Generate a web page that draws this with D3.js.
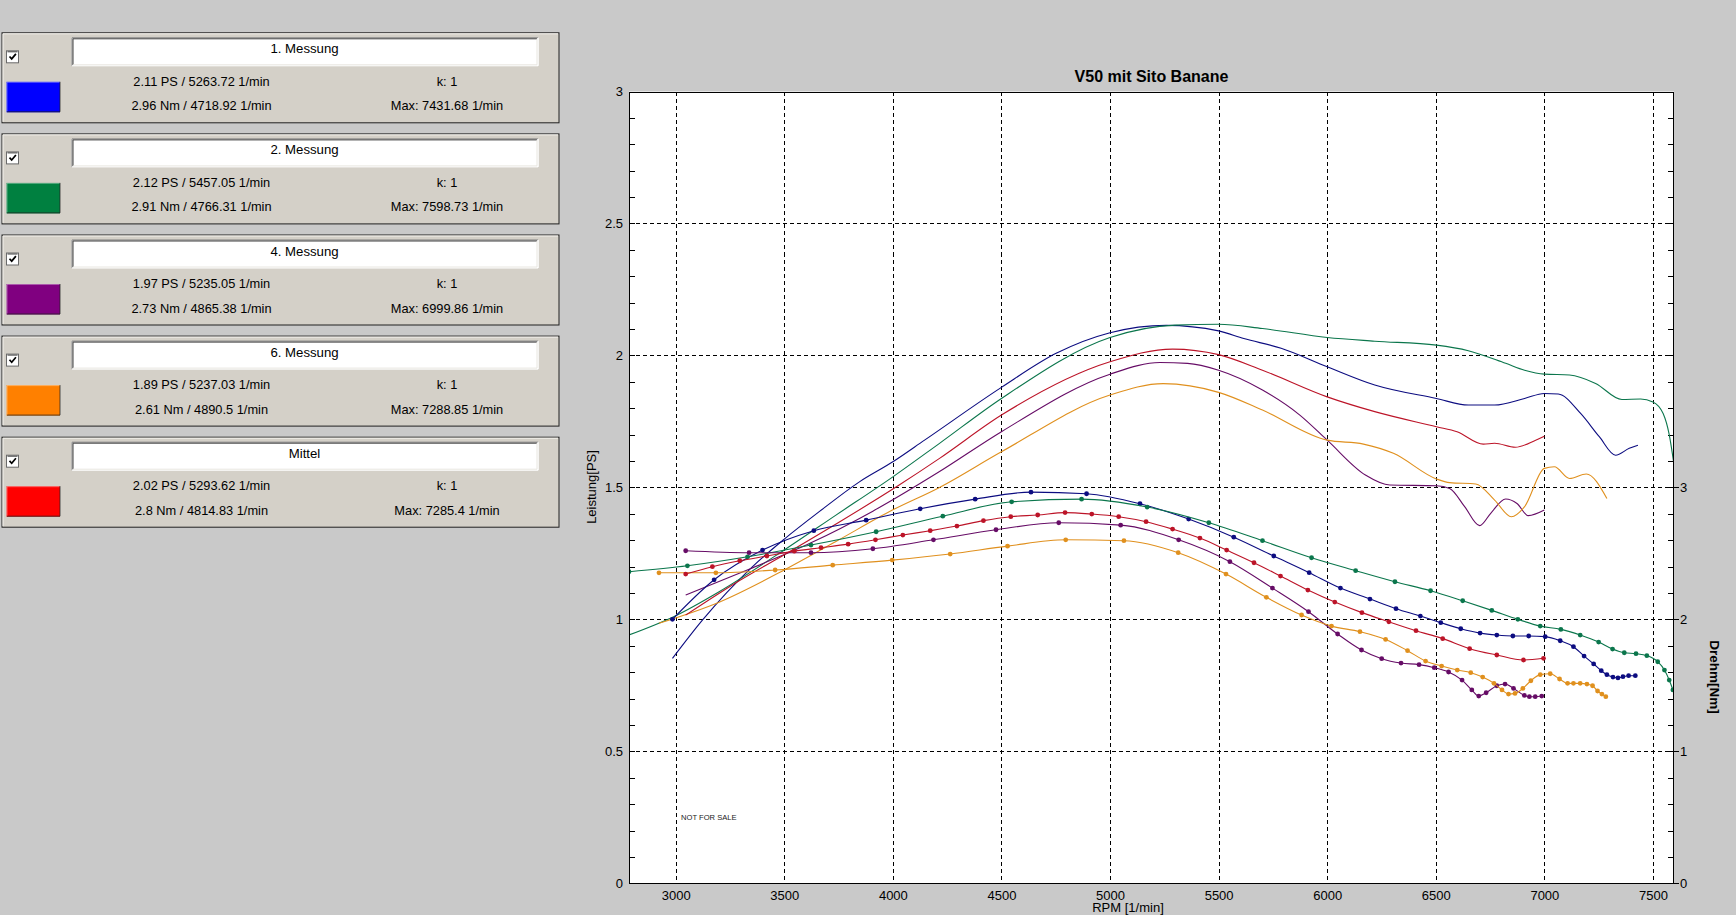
<!DOCTYPE html>
<html><head><meta charset="utf-8">
<script src="https://cdn.jsdelivr.net/npm/d3@7"></script>
<style>
html,body{margin:0;padding:0;background:#c9c9c9;overflow:hidden;}
svg{display:block;font-family:"Liberation Sans",Arial,sans-serif;}
</style></head><body>
<svg id="c" width="1736" height="915"></svg>
<script>
// ---------------- DATA ----------------
const seriesNames = ["1. Messung", "2. Messung", "4. Messung", "6. Messung", "Mittel"];
const legendPower = ["2.11 PS / 5263.72 1/min", "2.12 PS / 5457.05 1/min", "1.97 PS / 5235.05 1/min", "1.89 PS / 5237.03 1/min", "2.02 PS / 5293.62 1/min"];
const legendTorque = ["2.96 Nm / 4718.92 1/min", "2.91 Nm / 4766.31 1/min", "2.73 Nm / 4865.38 1/min", "2.61 Nm / 4890.5 1/min", "2.8 Nm / 4814.83 1/min"];
const legendK = ["k: 1", "k: 1", "k: 1", "k: 1", "k: 1"];
const legendMax = ["Max: 7431.68 1/min", "Max: 7598.73 1/min", "Max: 6999.86 1/min", "Max: 7288.85 1/min", "Max: 7285.4 1/min"];

const xTicks = [3000, 3500, 4000, 4500, 5000, 5500, 6000, 6500, 7000, 7500];
const psTicks = [0, 0.5, 1, 1.5, 2, 2.5, 3];
const nmTicks = [0, 1, 2, 3];

// Power [PS] vs RPM
const power1 = [[2985,0.852],[3123,0.997],[3354,1.20],[3500,1.304],[3661,1.408],[3846,1.521],[4000,1.597],[4146,1.679],[4500,1.879],[4752,2.008],[5000,2.086],[5259,2.114],[5500,2.093],[5616,2.064],[5788,2.027],[6000,1.957],[6219,1.888],[6503,1.837],[6650,1.812],[6771,1.812],[6909,1.837],[7000,1.856],[7064,1.854],[7167,1.780],[7253,1.692],[7328,1.622],[7391,1.648],[7431,1.660]];
const power2 = [[2785,0.941],[3000,1.014],[3200,1.105],[3500,1.263],[3738,1.395],[4000,1.540],[4215,1.667],[4500,1.837],[5000,2.068],[5300,2.115],[5500,2.118],[5702,2.102],[6000,2.068],[6219,2.054],[6503,2.039],[6650,2.018],[6822,1.970],[6909,1.944],[7000,1.929],[7116,1.926],[7236,1.894],[7357,1.833],[7443,1.835],[7500,1.824],[7547,1.780],[7575,1.700],[7598,1.580]];
const power4 = [[3046,1.092],[3338,1.19],[3623,1.29],[3908,1.41],[4215,1.56],[4500,1.711],[5000,1.929],[5230,1.973],[5357,1.970],[5500,1.944],[5702,1.869],[5874,1.774],[6000,1.679],[6176,1.547],[6288,1.509],[6503,1.506],[6564,1.496],[6633,1.427],[6702,1.355],[6753,1.402],[6822,1.456],[6874,1.439],[6926,1.393],[7000,1.414]];
const power6 = [[2923,0.985],[3200,1.065],[3500,1.187],[3738,1.295],[4000,1.415],[4215,1.50],[4500,1.635],[5000,1.850],[5245,1.893],[5500,1.860],[5702,1.793],[6000,1.679],[6167,1.664],[6305,1.629],[6503,1.532],[6564,1.518],[6684,1.513],[6771,1.452],[6848,1.389],[6909,1.427],[7000,1.572],[7046,1.578],[7116,1.534],[7193,1.551],[7288,1.458]];
const powerM = [[3046,1.016],[3300,1.15],[3500,1.245],[3750,1.367],[4029,1.509],[4215,1.61],[4500,1.774],[5000,1.976],[5288,2.024],[5500,2.003],[5702,1.944],[6000,1.843],[6219,1.787],[6503,1.730],[6598,1.711],[6719,1.664],[6771,1.667],[6866,1.652],[6960,1.679],[7000,1.694]];

// Torque [Nm] vs RPM
const torque1 = [[2985,2.00],[3177,2.30],[3400,2.525],[3636,2.672],[3877,2.752],[4126,2.838],[4379,2.911],[4636,2.964],[4892,2.952],[5138,2.876],[5362,2.760],[5570,2.623],[5754,2.480],[5917,2.354],[6061,2.237],[6197,2.154],[6317,2.081],[6429,2.025],[6523,1.975],[6615,1.929],[6704,1.896],[6781,1.881],[6855,1.874],[6928,1.874],[7004,1.869],[7073,1.838],[7134,1.793],[7183,1.722],[7227,1.662],[7262,1.611],[7288,1.581],[7316,1.563],[7339,1.556],[7362,1.566],[7388,1.573],[7419,1.573]];
const torque2 = [[2785,2.361],[3054,2.406],[3331,2.474],[3623,2.563],[3923,2.664],[4230,2.782],[4547,2.891],[4869,2.911],[5171,2.851],[5455,2.732],[5702,2.596],[5928,2.467],[6131,2.369],[6312,2.285],[6476,2.217],[6624,2.141],[6758,2.068],[6878,2.0],[6981,1.949],[7076,1.924],[7165,1.881],[7250,1.828],[7314,1.775],[7368,1.747],[7422,1.740],[7472,1.725],[7522,1.679],[7553,1.616],[7575,1.540],[7592,1.465]];
const torque4 = [[3046,2.52],[3338,2.505],[3623,2.505],[3908,2.535],[4187,2.603],[4475,2.679],[4764,2.732],[5049,2.714],[5316,2.603],[5552,2.437],[5748,2.237],[5914,2.058],[6048,1.889],[6158,1.768],[6251,1.702],[6340,1.669],[6423,1.657],[6493,1.634],[6559,1.601],[6621,1.540],[6666,1.465],[6698,1.419],[6732,1.444],[6781,1.497],[6819,1.510],[6858,1.477],[6908,1.424],[6931,1.414],[6958,1.414],[6988,1.419]];
const torque6 = [[2923,2.353],[3185,2.353],[3458,2.374],[3723,2.411],[3997,2.449],[4264,2.495],[4528,2.555],[4796,2.603],[5064,2.596],[5314,2.505],[5534,2.343],[5720,2.167],[5882,2.033],[6020,1.949],[6151,1.907],[6269,1.848],[6370,1.763],[6453,1.684],[6527,1.646],[6599,1.616],[6661,1.596],[6716,1.563],[6768,1.515],[6805,1.465],[6835,1.434],[6865,1.439],[6901,1.477],[6938,1.535],[6981,1.581],[7027,1.588],[7070,1.548],[7107,1.515],[7134,1.515],[7165,1.515],[7196,1.510],[7222,1.497],[7245,1.457],[7265,1.434],[7283,1.414]];
const torqueM = [[3046,2.343],[3169,2.399],[3295,2.444],[3420,2.480],[3546,2.517],[3669,2.543],[3794,2.570],[3920,2.603],[4046,2.639],[4172,2.672],[4295,2.707],[4417,2.748],[4543,2.778],[4667,2.791],[4793,2.809],[4916,2.798],[5040,2.778],[5166,2.740],[5288,2.684],[5414,2.616],[5537,2.525],[5663,2.429],[5785,2.328],[5911,2.222],[6035,2.131],[6160,2.051],[6284,1.982],[6409,1.914],[6532,1.854],[6656,1.778],[6781,1.730],[6904,1.692],[6996,1.705]];

const powerSeries = [power1, power2, power4, power6, powerM];
const torqueSeries = [torque1, torque2, torque4, torque6, torqueM];

// ---------------- STYLE ----------------
const swatchColors = ["#0000ff", "#008040", "#800080", "#ff8000", "#ff0000"];
const lineColors = ["#0c0c80", "#0b764c", "#660c66", "#e0901e", "#bc1428"];

const W = 1736, H = 915;
const svg = d3.select("#c");
svg.append("rect").attr("width", W).attr("height", H).attr("fill", "#c9c9c9");

// ---------------- LEGEND PANELS ----------------
const boxY0 = 32.3, boxStep = 101.1, boxW = 557, boxH = 90;
seriesNames.forEach((name, i) => {
  const g = svg.append("g").attr("transform", `translate(1.5,${boxY0 + i * boxStep})`);
  g.append("rect").attr("x", 0.5).attr("y", 0.5).attr("width", boxW).attr("height", boxH)
    .attr("fill", "#d4d0c8").attr("stroke", "#202020");
  g.append("path").attr("d", `M1.5,${boxH - 0.5}V1.5H${boxW - 0.5}`).attr("fill", "none").attr("stroke", "#f4f2ee");
  // title field (sunken)
  g.append("rect").attr("x", 70).attr("y", 5.5).attr("width", 467).attr("height", 28).attr("fill", "#ffffff");
  g.append("path").attr("d", "M70.5,33.5V5.5H536.5").attr("fill", "none").attr("stroke", "#808080");
  g.append("path").attr("d", "M71.5,32.5V6.5H535.5").attr("fill", "none").attr("stroke", "#404040");
  g.append("path").attr("d", "M70.5,33.5H536.5V5.5").attr("fill", "none").attr("stroke", "#ffffff");
  g.append("path").attr("d", "M71.5,32.5H535.5V6.5").attr("fill", "none").attr("stroke", "#e8e6e0");
  g.append("text").attr("x", 303).attr("y", 21).attr("text-anchor", "middle")
    .attr("font-size", "13.2px").attr("fill", "#000").text(name);
  // checkbox
  g.append("rect").attr("x", 5).attr("y", 18.5).attr("width", 12).attr("height", 12).attr("fill", "#fff")
    .attr("stroke", "#6a6a6a");
  g.append("path").attr("d", "M6,19.5H16").attr("stroke", "#404040");
  g.append("path").attr("d", "M8,24.2 L10.2,26.6 L14.4,21.6").attr("fill", "none").attr("stroke", "#000").attr("stroke-width", 1.7);
  // colour swatch
  g.append("rect").attr("x", 5).attr("y", 49.5).attr("width", 53.5).attr("height", 30.5).attr("fill", swatchColors[i]);
  g.append("path").attr("d", "M5.5,79.5H58.5V49.5").attr("fill", "none").attr("stroke", "#202020").attr("stroke-opacity", 0.75);
  g.append("path").attr("d", "M5.5,79V50H58").attr("fill", "none").attr("stroke", "#ffffff").attr("stroke-opacity", 0.35);
  // values
  const t = g.append("g").attr("font-size", "12.8px").attr("fill", "#000").attr("text-anchor", "middle");
  t.append("text").attr("x", 200).attr("y", 53.5).text(legendPower[i]);
  t.append("text").attr("x", 200).attr("y", 78).text(legendTorque[i]);
  t.append("text").attr("x", 445.5).attr("y", 53.5).text(legendK[i]);
  t.append("text").attr("x", 445.5).attr("y", 78).text(legendMax[i]);
});

// ---------------- PLOT ----------------
const L = 629, R = 1674, T = 91.5, B = 883.3;
const x = d3.scaleLinear().domain([2785, 7597]).range([L, R]);
const yP = d3.scaleLinear().domain([0, 3]).range([B, T]);
const yT = d3.scaleLinear().domain([0, 6]).range([B, T]);

svg.append("rect").attr("x", L).attr("y", T).attr("width", R - L).attr("height", B - T).attr("fill", "#ffffff");

svg.append("defs").append("clipPath").attr("id", "clip")
  .append("rect").attr("x", L).attr("y", T).attr("width", R - L).attr("height", B - T);

const grid = svg.append("g").attr("stroke", "#000").attr("stroke-width", 1).attr("stroke-dasharray", "4,3").attr("shape-rendering", "crispEdges");
xTicks.forEach(v => {
  grid.append("line").attr("x1", Math.round(x(v)) + 0.5).attr("x2", Math.round(x(v)) + 0.5).attr("y1", T).attr("y2", B);
});
psTicks.filter(v => v > 0 && v < 3).forEach(v => {
  grid.append("line").attr("x1", L).attr("x2", R).attr("y1", Math.round(yP(v)) + 0.5).attr("y2", Math.round(yP(v)) + 0.5);
});

// minor ticks (inside)
const ticks = svg.append("g").attr("stroke", "#000").attr("shape-rendering", "crispEdges");
d3.range(1, 30).forEach(k => {
  const v = k / 10;
  const yy = Math.round(yP(v)) + 0.5;
  ticks.append("line").attr("x1", L).attr("x2", L + 6).attr("y1", yy).attr("y2", yy);
});
d3.range(1, 30).forEach(k => {
  const v = k * 0.2;
  const yy = Math.round(yT(v)) + 0.5;
  ticks.append("line").attr("x1", R - 6).attr("x2", R).attr("y1", yy).attr("y2", yy);
});

// curves
const plot = svg.append("g").attr("clip-path", "url(#clip)");
const linePS = d3.line().x(d => x(d[0])).y(d => yP(d[1])).curve(d3.curveMonotoneX);
const lineNm = d3.line().x(d => x(d[0])).y(d => yT(d[1])).curve(d3.curveMonotoneX);

powerSeries.forEach((s, i) => {
  plot.append("path").datum(s).attr("d", linePS).attr("fill", "none")
    .attr("stroke", lineColors[i]).attr("stroke-width", 1.1);
});
torqueSeries.forEach((s, i) => {
  plot.append("path").datum(s).attr("d", lineNm).attr("fill", "none")
    .attr("stroke", lineColors[i]).attr("stroke-width", 1.1);
  plot.append("g").selectAll("circle").data(s).join("circle")
    .attr("cx", d => x(d[0])).attr("cy", d => yT(d[1])).attr("r", 2.4)
    .attr("fill", lineColors[i]);
});

// frame
svg.append("rect").attr("x", L + 0.5).attr("y", T + 0.5).attr("width", R - L - 1).attr("height", B - T)
  .attr("fill", "none").attr("stroke", "#000").attr("shape-rendering", "crispEdges");

// axes labels
const fmt = d => String(d);
const ax = svg.append("g").attr("transform", `translate(0,${B})`)
  .call(d3.axisBottom(x).tickValues(xTicks).tickSize(0).tickPadding(7).tickFormat(fmt));
ax.select(".domain").remove();
ax.selectAll("text").attr("font-size", "13px").attr("font-family", "Liberation Sans, Arial, sans-serif").attr("fill", "#000");

const ay = svg.append("g").attr("transform", `translate(${L},0)`)
  .call(d3.axisLeft(yP).tickValues(psTicks).tickSize(0).tickPadding(6).tickFormat(fmt));
ay.select(".domain").remove();
ay.selectAll("text").attr("font-size", "13px").attr("font-family", "Liberation Sans, Arial, sans-serif").attr("fill", "#000");

const ar = svg.append("g").attr("transform", `translate(${R},0)`)
  .call(d3.axisRight(yT).tickValues(nmTicks).tickSizeInner(5).tickSizeOuter(0).tickPadding(1).tickFormat(fmt));
ar.select(".domain").remove();
ar.selectAll("line").attr("stroke", "#000").attr("shape-rendering", "crispEdges");
ar.selectAll("text").attr("font-size", "13px").attr("font-family", "Liberation Sans, Arial, sans-serif").attr("fill", "#000");

// titles
svg.append("text").attr("x", (L + R) / 2).attr("y", 81.5).attr("text-anchor", "middle")
  .attr("font-size", "16px").attr("font-weight", "bold").text("V50 mit Sito Banane");
svg.append("text").attr("transform", "translate(596,487) rotate(-90)").attr("text-anchor", "middle")
  .attr("font-size", "13px").text("Leistung[PS]");
svg.append("text").attr("transform", "translate(1710,677) rotate(90)").attr("text-anchor", "middle")
  .attr("font-size", "13.5px").attr("font-weight", "bold").text("Drehm[Nm]");
svg.append("text").attr("x", 1128).attr("y", 911.5).attr("text-anchor", "middle")
  .attr("font-size", "13px").text("RPM [1/min]");
svg.append("text").attr("x", 681).attr("y", 820).attr("font-size", "7.6px").attr("fill", "#222").text("NOT FOR SALE");
</script></body></html>
